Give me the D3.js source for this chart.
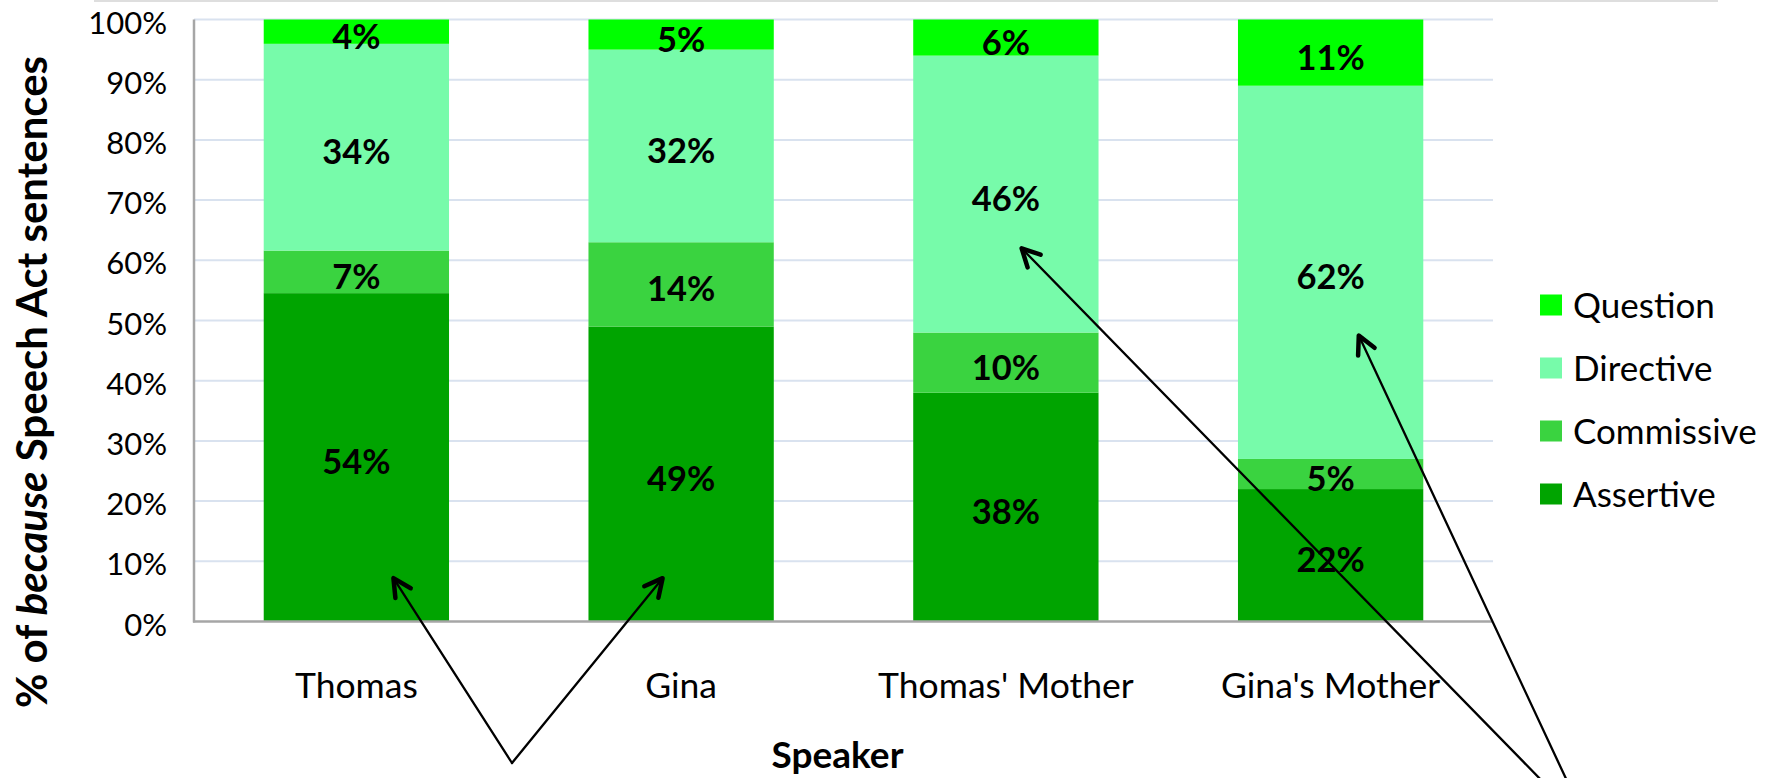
<!DOCTYPE html>
<html>
<head>
<meta charset="utf-8">
<script src="https://cdn.jsdelivr.net/npm/d3@7"></script>
<style>
  html, body { margin: 0; padding: 0; background: #fff; }
  svg { display: block; font-family: Lato, "Open Sans", sans-serif; }
</style>
</head>
<body>
<svg id="chart" width="1771" height="778"></svg>
<script>
// Speakers along the x axis
const speakers = ["Thomas", "Gina", "Thomas' Mother", "Gina's Mother"];
// Speech act types, bottom to top of each stack
const actTypes = ["Assertive", "Commissive", "Directive", "Question"];
// Percent of "because" sentences per speaker, one array per act type
const assertive  = [54, 49, 38, 22];
const commissive = [7, 14, 10, 5];
const directive  = [34, 32, 46, 62];
const question   = [4, 5, 6, 11];
// Y axis tick values (share of total)
const yTicks = [0, 0.1, 0.2, 0.3, 0.4, 0.5, 0.6, 0.7, 0.8, 0.9, 1.0];
// Arrow annotations: speaker, position across the bar, value pointed at, group of the tail
const arrowTips = [
  { speaker: "Thomas", across: 0.70, value: 0.072, group: 0 },
  { speaker: "Gina", across: 0.40, value: 0.072, group: 0 },
  { speaker: "Thomas' Mother", across: 0.585, value: 0.620, group: 1 },
  { speaker: "Gina's Mother", across: 0.652, value: 0.475, group: 1 }
];

const colors = {
  Assertive: "#00a400",
  Commissive: "#3ad340",
  Directive: "#77fbaa",
  Question: "#00ff00"
};

const series = { Assertive: assertive, Commissive: commissive, Directive: directive, Question: question };
const rows = speakers.map((s, i) => {
  const r = { speaker: s };
  actTypes.forEach(k => { r[k] = series[k][i]; });
  return r;
});

const svg = d3.select("#chart");
const plot = { left: 194, right: 1493, top: 19.5, bottom: 621.5 };

const x = d3.scaleBand()
  .domain(speakers)
  .range([plot.left, plot.right])
  .paddingInner(0.4294)
  .paddingOuter(0.2147);

const y = d3.scaleLinear().domain([0, 1]).range([plot.bottom, plot.top]);

// faint frame line across the top
svg.append("line")
  .attr("x1", 94).attr("x2", 1718).attr("y1", 1).attr("y2", 1)
  .attr("stroke", "#dedede").attr("stroke-width", 2);

// horizontal gridlines
svg.append("g")
  .selectAll("line")
  .data(yTicks.filter(t => t > 0))
  .join("line")
  .attr("x1", plot.left).attr("x2", plot.right)
  .attr("y1", d => y(d)).attr("y2", d => y(d))
  .attr("stroke", "#d9e2ef").attr("stroke-width", 2);

// stacked bars, normalised to 100%
const stacked = d3.stack().keys(actTypes).offset(d3.stackOffsetExpand)(rows);

const layers = svg.append("g").selectAll("g")
  .data(stacked)
  .join("g")
  .attr("fill", d => colors[d.key]);

layers.selectAll("rect")
  .data(d => d)
  .join("rect")
  .attr("x", d => x(d.data.speaker))
  .attr("width", x.bandwidth())
  .attr("y", d => y(d[1]))
  .attr("height", d => y(d[0]) - y(d[1]));

// value labels in each segment
const labels = svg.append("g")
  .attr("font-weight", 700)
  .attr("font-size", 34.5)
  .attr("text-anchor", "middle")
  .attr("fill", "#000");

stacked.forEach(layer => {
  labels.selectAll(null)
    .data(layer)
    .join("text")
    .attr("x", d => x(d.data.speaker) + x.bandwidth() / 2)
    .attr("y", d => y((d[0] + d[1]) / 2) + 17)
    .text(d => d.data[layer.key] + "%");
});

// axes
const yAxis = d3.axisLeft(y).tickValues(yTicks).tickFormat(d3.format(".0%")).tickSize(0);
const gy = svg.append("g").attr("transform", `translate(${plot.left},0)`).call(yAxis);
gy.select(".domain").remove();
gy.selectAll("text")
  .attr("font-family", "Lato, 'Open Sans', sans-serif")
  .attr("font-size", 31)
  .attr("fill", "#000")
  .attr("dy", null)
  .attr("y", 13.5)
  .attr("x", -27);

const xAxis = d3.axisBottom(x).tickSize(0).tickPadding(0);
const gx = svg.append("g").attr("transform", `translate(0,${plot.bottom})`).call(xAxis);
gx.select(".domain").remove();
gx.selectAll("text")
  .attr("font-family", "Lato, 'Open Sans', sans-serif")
  .attr("font-size", 35.5)
  .attr("fill", "#000")
  .attr("dy", null)
  .attr("y", 698 - plot.bottom);

svg.append("line")
  .attr("x1", plot.left).attr("x2", plot.left)
  .attr("y1", plot.top).attr("y2", plot.bottom + 1)
  .attr("stroke", "#a6a6a6").attr("stroke-width", 2.5);
svg.append("line")
  .attr("x1", plot.left - 1).attr("x2", plot.right)
  .attr("y1", plot.bottom).attr("y2", plot.bottom)
  .attr("stroke", "#a6a6a6").attr("stroke-width", 2.5);

// axis titles
svg.append("text")
  .attr("x", (plot.left + plot.right) / 2 - 6)
  .attr("y", 768)
  .attr("text-anchor", "middle")
  .attr("font-weight", 700)
  .attr("font-size", 37)
  .text("Speaker");

const yTitle = svg.append("text")
  .attr("transform", "translate(47,382) rotate(-90)")
  .attr("text-anchor", "middle")
  .attr("font-weight", 700)
  .attr("font-size", 42);
yTitle.append("tspan").text("% of ");
yTitle.append("tspan").attr("font-style", "italic").text("because");
yTitle.append("tspan").text(" Speech Act sentences");

// legend, top entry first
const legendKeys = actTypes.slice().reverse();
const legend = svg.append("g").selectAll("g")
  .data(legendKeys)
  .join("g")
  .attr("transform", (d, i) => `translate(1540,${305 + i * 63})`);
legend.append("rect")
  .attr("x", 0).attr("y", -10.5).attr("width", 22).attr("height", 21)
  .attr("fill", d => colors[d]);
legend.append("text")
  .attr("x", 33).attr("y", 12.5)
  .attr("font-size", 35)
  .attr("fill", "#000")
  .text(d => d);

// arrows pointing at the bars
const tails = [[512, 763], [1590, 830]];
const arrows = svg.append("g")
  .attr("stroke", "#000")
  .attr("fill", "none")
  .attr("stroke-linecap", "round")
  .attr("stroke-linejoin", "round");

arrowTips.forEach(a => {
  const tx = x(a.speaker) + x.bandwidth() * a.across;
  const ty = y(a.value);
  const [sx, sy] = tails[a.group];
  arrows.append("line")
    .attr("x1", sx).attr("y1", sy).attr("x2", tx).attr("y2", ty)
    .attr("stroke-width", 2.3);
  const ang = Math.atan2(sy - ty, sx - tx);
  const len = 20, spread = 27 * Math.PI / 180;
  const p1 = [tx + len * Math.cos(ang - spread), ty + len * Math.sin(ang - spread)];
  const p2 = [tx + len * Math.cos(ang + spread), ty + len * Math.sin(ang + spread)];
  arrows.append("path")
    .attr("d", `M${p1[0]},${p1[1]}L${tx},${ty}L${p2[0]},${p2[1]}`)
    .attr("stroke-width", 4.5);
});
</script>
</body>
</html>
